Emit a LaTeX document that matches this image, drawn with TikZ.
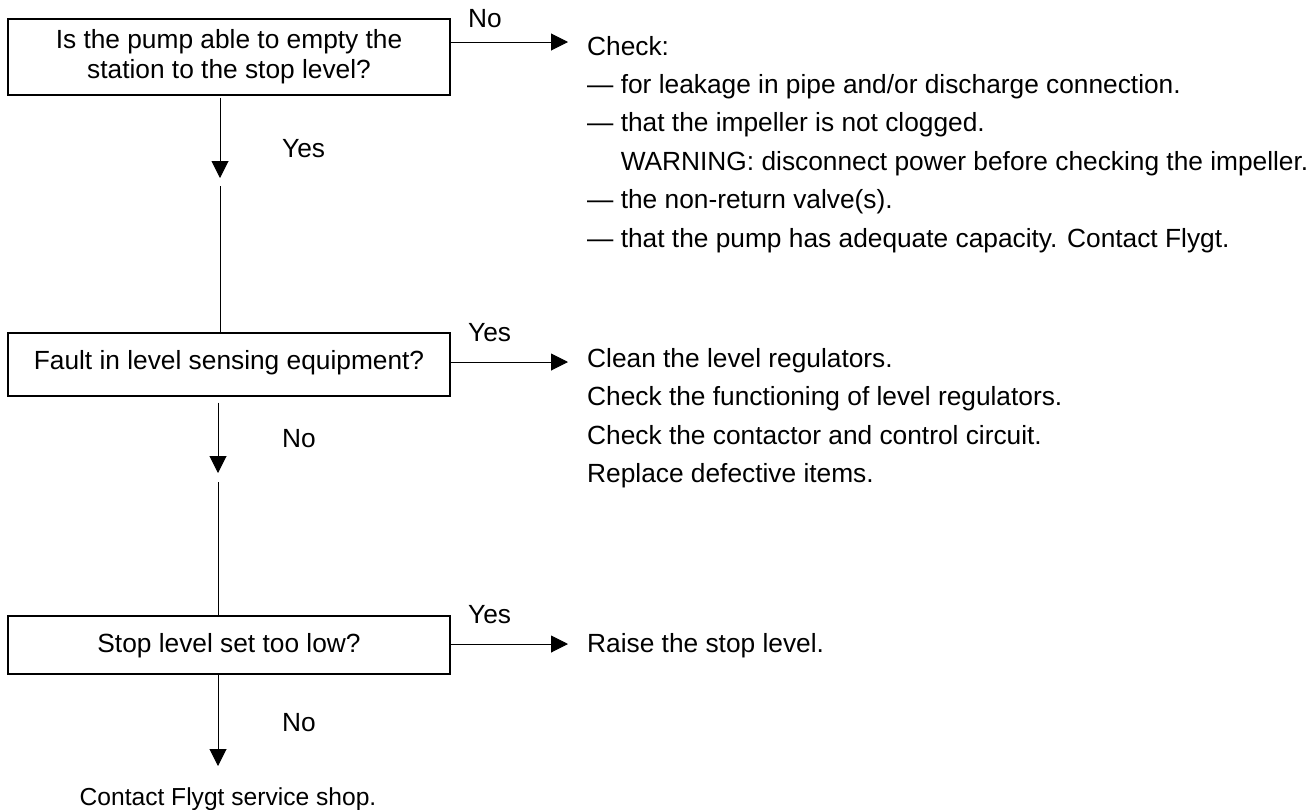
\documentclass[tikz,border=0pt]{standalone}
\usepackage{fontspec}
\setmainfont{Liberation Sans}
\usetikzlibrary{arrows.meta}
\begin{document}
\begin{tikzpicture}[x=1pt,y=-1pt,
  font=\fontsize{26.3}{30}\selectfont,
  box/.style={draw, line width=1.2pt, minimum width=442pt, inner sep=0pt},
  txt/.style={anchor=base west, inner sep=0pt},
  ctxt/.style={anchor=base, inner sep=0pt},
  arr/.style={-{Triangle[length=17pt,width=17pt]}, line width=1pt},
  ln/.style={line width=1pt}]
\useasboundingbox (0,0) rectangle (1312,809);

% decision boxes
\node[box, minimum height=76pt] (q1) at (229,57) {};
\node[ctxt] (q1a) at (229,48) {Is the pump able to empty the};
\node[ctxt] (q1b) at (229,78) {station to the stop level?};

\node[box, minimum height=63pt] (q2) at (229,364.5) {};
\node[ctxt] (q2t) at (229,369) {Fault in level sensing equipment?};

\node[box, minimum height=58pt] (q3) at (229,645) {};
\node[ctxt] (q3t) at (229,652) {Stop level set too low?};

\node[ctxt, font=\fontsize{24.6}{30}\selectfont] (end) at (228,805) {Contact Flygt service shop.};

% right column texts
\node[txt] (chk) at (587,55) {Check:};
\node[txt] (c1) at (587,93.4) {— for leakage in pipe and/or discharge connection.};
\node[txt] (c2) at (587,131.8) {— that the impeller is not clogged.};
\node[txt] (c3) at (587,170.2) {\phantom{— }WARNING: disconnect power before checking the impeller.};
\node[txt] (c4) at (587,208.6) {— the non-return valve(s).};
\node[txt] (c5) at (587,247) {— that the pump has adequate capacity. Contact Flygt.};

\node[txt] (r1) at (587,367) {Clean the level regulators.};
\node[txt] (r2) at (587,405.5) {Check the functioning of level regulators.};
\node[txt] (r3) at (587,444) {Check the contactor and control circuit.};
\node[txt] (r4) at (587,482.5) {Replace defective items.};

\node[txt] (s1) at (587,652) {Raise the stop level.};

% labels
\node[txt] (l1) at (468,27) {No};
\node[txt] (l2) at (468,341) {Yes};
\node[txt] (l3) at (468,623) {Yes};
\node[txt] (l4) at (282,157) {Yes};
\node[txt] (l5) at (282,447) {No};
\node[txt] (l6) at (282,731) {No};

% horizontal arrows
\coordinate (h1) at (568,42);
\coordinate (h2) at (568,362);
\coordinate (h3) at (568,644);
\draw[arr] (q1.east |- h1) -- (h1);
\draw[arr] (q2.east |- h2) -- (h2);
\draw[arr] (q3.east |- h3) -- (h3);

% vertical arrows
\coordinate (v1e) at (220,178);
\coordinate (v1s) at (220,186);
\draw[arr] ([yshift=-2pt]q1.south -| v1e) -- (v1e);
\draw[ln] (v1s) -- (v1s |- q2.north);

\coordinate (v2e) at (218,473);
\coordinate (v2s) at (218,482);
\draw[arr] ([yshift=-6pt]q2.south -| v2e) -- (v2e);
\draw[ln] (v2s) -- (v2s |- q3.north);

\coordinate (v3e) at (218,766);
\draw[arr] (q3.south -| v3e) -- (v3e);
\end{tikzpicture}
\end{document}
